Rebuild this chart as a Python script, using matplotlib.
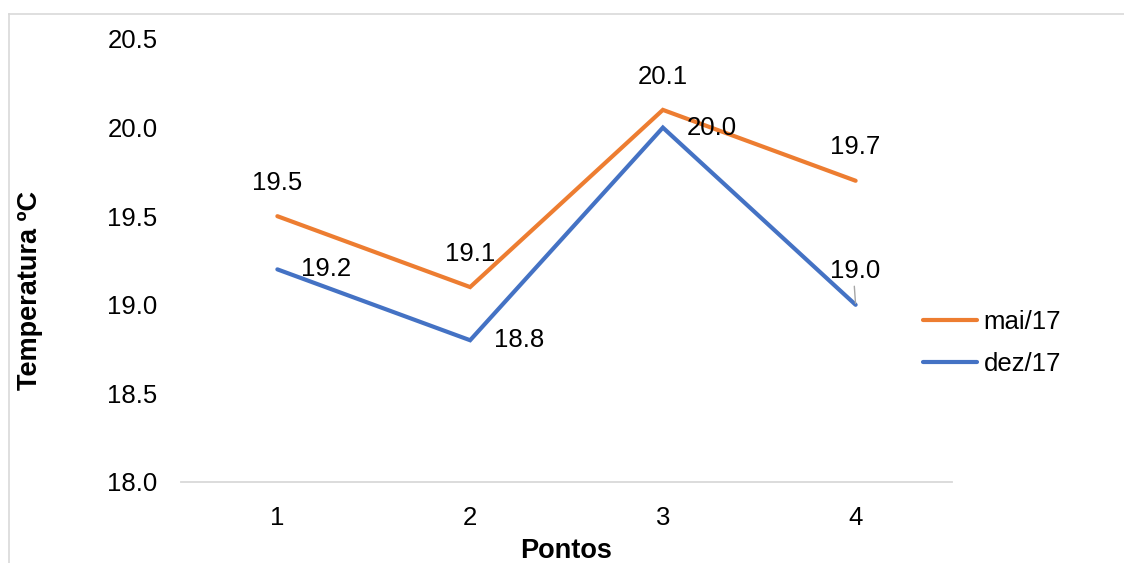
import matplotlib
matplotlib.use("Agg")
import matplotlib.pyplot as plt
from matplotlib.lines import Line2D

plt.rcParams['font.family'] = ['Liberation Sans', 'DejaVu Sans']

# Data
pontos = [1, 2, 3, 4]
mai17 = [19.5, 19.1, 20.1, 19.7]
dez17 = [19.2, 18.8, 20.0, 19.0]
series_names = ["mai/17", "dez/17"]
yticks = [18.0, 18.5, 19.0, 19.5, 20.0, 20.5]

ORANGE = "#ED7D31"
BLUE = "#4472C4"
GRID = "#D9D9D9"
FS = 18.5
FS_TITLE = 19.5

W, H = 1124, 563
fig = plt.figure(figsize=(W / 100, H / 100), dpi=100)
fig.patch.set_facecolor("white")

# Chart-area border (top and left edges visible)
fig.add_artist(Line2D([8.5 / W, 1.0], [1 - 13.5 / H, 1 - 13.5 / H],
                      transform=fig.transFigure, color=GRID, lw=1.2))
fig.add_artist(Line2D([8.5 / W, 8.5 / W], [0.0, 1 - 13.5 / H],
                      transform=fig.transFigure, color=GRID, lw=1.2))

left, right = 181 / W, 952 / W
bottom, top = 1 - 482 / H, 1 - 39 / H
ax = fig.add_axes([left, bottom, right - left, top - bottom])

l1, = ax.plot(pontos, mai17, color=ORANGE, lw=3.0, solid_joinstyle="miter",
              solid_capstyle="round", label=series_names[0])
l2, = ax.plot(pontos, dez17, color=BLUE, lw=3.0, solid_joinstyle="miter",
              solid_capstyle="round", label=series_names[1])

ax.set_xlim(0.5, 4.5)
ax.set_ylim(18.0, 20.5)
ax.set_xticks(pontos)
ax.set_xticklabels([str(p) for p in pontos])
ax.set_yticks(yticks)
ax.set_yticklabels([f"{v:.1f}" for v in yticks])
ax.tick_params(axis="both", length=0, labelsize=FS, colors="black")
ax.tick_params(axis="y", pad=17)
ax.tick_params(axis="x", pad=17)
for s in ["top", "right", "left"]:
    ax.spines[s].set_visible(False)
ax.spines["bottom"].set_color(GRID)
ax.spines["bottom"].set_linewidth(1.3)

# Data labels: mai/17 above each point
for x, y in zip(pontos, mai17):
    ax.annotate(f"{y:.1f}", (x, y), xytext=(0, 24), textcoords="offset points",
                ha="center", va="center", fontsize=FS)

# Data labels: dez/17 to the right, last one above with a leader line
for i, (x, y) in enumerate(zip(pontos, dez17)):
    if i == 3:
        ax.annotate(f"{y:.1f}", (x, y), xytext=(0, 24), textcoords="offset points",
                    ha="center", va="center", fontsize=FS,
                    arrowprops=dict(arrowstyle="-", color="#A6A6A6", lw=1.0,
                                    shrinkA=0, shrinkB=1, relpos=(0.47, 0.0)))
    else:
        ax.annotate(f"{y:.1f}", (x, y), xytext=(17, 0), textcoords="offset points",
                    ha="left", va="center", fontsize=FS)

ax.set_ylabel("Temperatura ºC", fontsize=FS_TITLE, fontweight="bold")
ax.yaxis.set_label_coords((43 - 181) / (952 - 181), (482 - 290) / (482 - 39))
ax.set_xlabel("Pontos", fontsize=FS_TITLE, fontweight="bold")
ax.xaxis.set_label_coords((566 - 181) / (952 - 181), (482 - 538) / (482 - 39))

fig.legend(handles=[l1, l2], loc="center left",
           bbox_to_anchor=(923 / W, 1 - 343 / H),
           frameon=False, fontsize=FS, handlelength=2.1, handletextpad=0.25,
           labelspacing=0.68, borderpad=0, borderaxespad=0)

fig.savefig("out.png", dpi=100, facecolor="white")
